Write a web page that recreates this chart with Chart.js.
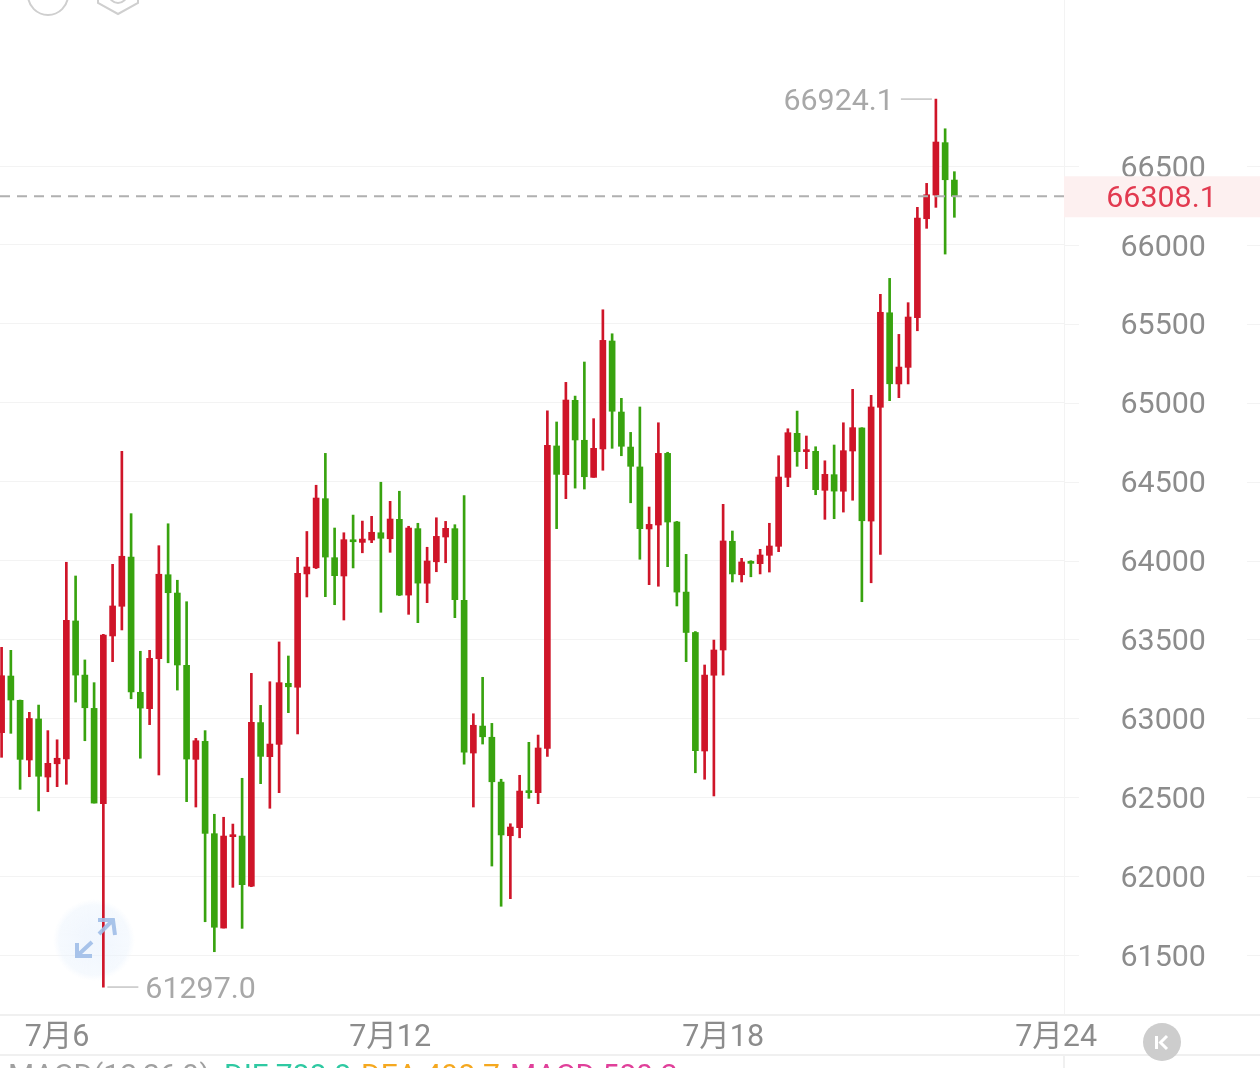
<!DOCTYPE html>
<html>
<head>
<meta charset="utf-8">
<style>
  html, body { margin: 0; padding: 0; background: #fff; overflow: hidden; }
  canvas { display: block; }
</style>
<script src="https://cdn.jsdelivr.net/npm/chart.js@4/dist/chart.umd.min.js"></script>
</head>
<body>
<canvas id="kline" width="1260" height="1068"></canvas>
<script>
// BTC 4h candles, red = up, green = down
const opens = [62909,63268,63114,62736,62996,62628,62712,62742,63617,63274,63063,62459,63522,63710,64022,63165,63061,63378,63910,63794,63336,62740,62854,62269,61671,62250,62254,61937,62973,62757,62835,63222,63197,63915,63954,64392,64018,63902,64130,64115,64130,64176,64138,64261,63781,64202,63856,63992,64149,64202,63748,62780,62951,62880,62596,62256,62307,62539,62529,62810,64726,64544,65015,64762,64527,64707,65391,64941,64719,64593,64200,64225,64679,64244,63800,63544,62793,63273,63433,64122,63910,63991,63980,64033,64090,64527,64806,64690,64692,64445,64544,64439,64694,64840,64250,64971,65570,65119,65224,65539,66166,66316,66648,66411];
const closes = [63270,63116,62740,62999,62633,62715,62747,63621,63274,63067,62463,63528,63712,64027,63167,63065,63380,63913,63796,63338,62742,62858,62271,61676,62254,62262,61946,62975,62759,62837,63226,63200,63919,63959,64396,64022,63904,64132,64119,64136,64179,64141,64263,63781,64206,63857,63997,64153,64204,63752,62785,62956,62883,62598,62261,62311,62539,62529,62812,64730,64546,65017,64764,64531,64711,65395,64946,64724,64597,64202,64229,64679,64244,63800,63544,62795,63274,63433,64124,63915,63991,63982,64035,64092,64529,64810,64690,64698,64449,64546,64440,64696,64842,64252,64973,65573,65120,65226,65543,66170,66318,66652,66413,66308.1];
const highs = [63450,63431,63116,63038,63084,62922,62864,63989,63902,63370,63226,63532,63976,64692,64297,63425,63431,64094,64233,63875,63739,62873,62922,62392,62373,62330,62620,63285,63082,63232,63484,63395,64020,64184,64477,64679,64206,64176,64288,64250,64280,64496,64375,64439,64217,64236,64084,64271,64248,64227,64411,63029,63260,62968,62614,62332,62639,62848,62894,64949,64878,65129,65042,65258,64899,65589,65437,65028,64812,64973,64339,64873,64686,64248,64039,63550,63338,63496,64356,64187,64014,63999,64071,64236,64664,64835,64947,64789,64721,64632,64732,64873,65085,64842,65047,65687,65788,65433,65634,66238,66390,66924.1,66736,66464];
const lows = [62753,62905,62550,62630,62413,62535,62567,62582,63103,62858,62463,61297,63359,63560,63124,62747,62960,62641,63352,63179,62472,62438,61711,61521,61671,61929,61669,61933,62586,62430,62529,63036,62901,63769,63949,63771,63720,63623,63953,64049,64113,63672,64052,63778,63659,63606,63733,63929,63986,63638,62709,62438,62837,62064,61809,61857,62243,62493,62459,62759,64202,64392,64459,64453,64527,64572,64711,64664,64366,64008,63847,63837,63961,63712,63359,62655,62614,62508,63274,63864,63864,63897,63915,63927,64056,64468,64597,64582,64417,64261,64265,64307,64382,63739,63859,64039,65013,65032,65119,65456,66105,66238,65942,66175];

const priceTicks = [61500,62000,62500,63000,63500,64000,64500,65000,65500,66000,66500];
const dateTickIndex = [6,42,78,114];
const dateTickLabels = ['7月6','7月12','7月18','7月24'];

const RED = '#cf1529';
const GREEN = '#38a30f';
const GRID = '#f3f3f3';
const FONT = 'Roboto, "Noto Sans CJK SC", sans-serif';

const candleColor = ctx => {
  const i = ctx.dataIndex;
  return closes[i] >= opens[i] ? RED : GREEN;
};

const wicks = opens.map((o, i) => ({ x: i, y: [lows[i], highs[i]] }));
// very flat candles still get a visible body
const bodies = opens.map((o, i) => ({ x: i, y: [o, closes[i]] }));

function drawExtreme(ctx, x, y, text, side) {
  ctx.strokeStyle = '#c4c4c4';
  ctx.lineWidth = 1.5;
  ctx.beginPath();
  ctx.moveTo(x + side * 4, y);
  ctx.lineTo(x + side * 35, y);
  ctx.stroke();
  ctx.fillStyle = '#a8a8a8';
  ctx.font = '30.4px ' + FONT;
  ctx.textBaseline = 'middle';
  ctx.textAlign = side > 0 ? 'left' : 'right';
  ctx.fillText(text, x + side * 42, y + 3);
}

// everything around the candles: separators, last price, high/low tags, buttons
const overlay = {
  id: 'overlay',
  beforeDatasetsDraw(chart) {
    const ctx = chart.ctx;
    ctx.save();
    // soft disc behind the expand button
    const glow = ctx.createRadialGradient(94, 940, 10, 94, 940, 41);
    glow.addColorStop(0, 'rgba(232,241,253,0.6)');
    glow.addColorStop(0.8, 'rgba(236,244,253,0.5)');
    glow.addColorStop(1, 'rgba(240,246,254,0)');
    ctx.fillStyle = glow;
    ctx.beginPath();
    ctx.arc(94, 940, 41, 0, Math.PI * 2);
    ctx.fill();
    ctx.restore();
  },
  afterDatasetsDraw(chart) {
    const ctx = chart.ctx;
    const { x, y } = chart.scales;
    const area = chart.chartArea;
    const last = closes[closes.length - 1];
    ctx.save();

    // last price line
    ctx.strokeStyle = '#b0b0b0';
    ctx.lineWidth = 2;
    ctx.setLineDash([10, 7]);
    ctx.beginPath();
    ctx.moveTo(0, y.getPixelForValue(last));
    ctx.lineTo(area.right, y.getPixelForValue(last));
    ctx.stroke();
    ctx.setLineDash([]);

    // expand arrows
    ctx.strokeStyle = 'rgba(160,190,232,0.9)';
    ctx.lineWidth = 4;
    ctx.beginPath();
    ctx.moveTo(99, 934); ctx.lineTo(112, 921);
    ctx.moveTo(98, 920); ctx.lineTo(113, 920); ctx.lineTo(115, 935);
    ctx.moveTo(92, 942); ctx.lineTo(78, 955);
    ctx.moveTo(77, 943); ctx.lineTo(77, 956); ctx.lineTo(92, 956);
    ctx.stroke();

    // highest and lowest price of the view
    const top = Math.max(...highs);
    const bottom = Math.min(...lows);
    drawExtreme(ctx, x.getPixelForValue(highs.indexOf(top)), y.getPixelForValue(top), top.toFixed(1), -1);
    drawExtreme(ctx, x.getPixelForValue(lows.indexOf(bottom)), y.getPixelForValue(bottom), bottom.toFixed(1), 1);
    ctx.restore();
  },
  afterDraw(chart) {
    const ctx = chart.ctx;
    const { y } = chart.scales;
    const area = chart.chartArea;
    const w = chart.width;
    const last = closes[closes.length - 1];
    const lastY = y.getPixelForValue(last);
    ctx.save();

    // grid stubs either side of the price labels
    ctx.strokeStyle = GRID;
    ctx.lineWidth = 1;
    priceTicks.forEach(t => {
      const py = Math.round(y.getPixelForValue(t)) + 0.5;
      ctx.beginPath();
      ctx.moveTo(area.right, py); ctx.lineTo(1079, py);
      ctx.moveTo(1247, py); ctx.lineTo(w, py);
      ctx.stroke();
    });

    // separators around the date row
    ctx.strokeStyle = '#f0f0f0';
    ctx.lineWidth = 2;
    ctx.beginPath();
    ctx.moveTo(0, 1015); ctx.lineTo(w, 1015);
    ctx.moveTo(0, 1055); ctx.lineTo(w, 1055);
    ctx.moveTo(area.right, 1055); ctx.lineTo(area.right, 1068);
    ctx.stroke();

    // last price tag
    ctx.fillStyle = '#fdf0f0';
    ctx.fillRect(area.right, lastY - 20, w - area.right, 41);
    ctx.fillStyle = '#e23a50';
    ctx.font = '30.4px ' + FONT;
    ctx.textAlign = 'center';
    ctx.textBaseline = 'middle';
    ctx.fillText(last.toFixed(1), 1161.5, lastY + 3);

    // collapse button
    ctx.fillStyle = '#cdcdcd';
    ctx.beginPath();
    ctx.arc(1162, 1042, 19, 0, Math.PI * 2);
    ctx.fill();
    ctx.strokeStyle = '#fff';
    ctx.lineWidth = 3;
    ctx.beginPath();
    ctx.moveTo(1156.5, 1036); ctx.lineTo(1156.5, 1049);
    ctx.moveTo(1167, 1036); ctx.lineTo(1160.5, 1042.5); ctx.lineTo(1167, 1049);
    ctx.stroke();

    // toolbar icons cut by the top edge
    ctx.strokeStyle = '#cfcfcf';
    ctx.lineWidth = 2;
    ctx.beginPath();
    ctx.arc(48, -5, 20, 0, Math.PI * 2);
    ctx.stroke();
    ctx.beginPath();
    ctx.moveTo(98, -20); ctx.lineTo(98, 3); ctx.lineTo(118, 14); ctx.lineTo(138, 3); ctx.lineTo(138, -20);
    ctx.stroke();
    ctx.beginPath();
    ctx.arc(118, -6, 9, 0, Math.PI * 2);
    ctx.stroke();

    // MACD readout, only its top shows above the edge
    ctx.font = '30px ' + FONT;
    ctx.textAlign = 'left';
    ctx.textBaseline = 'alphabetic';
    const readout = [
      ['MACD(12,26,9)', 8, '#a0a0a0'],
      ['DIF:788.8', 224, '#2fc9a2'],
      ['DEA:498.7', 361, '#f5a81f'],
      ['MACD:580.2', 510, '#e0409a']
    ];
    readout.forEach(r => {
      ctx.fillStyle = r[2];
      ctx.fillText(r[0], r[1], 1085);
    });
    ctx.restore();
  }
};

new Chart(document.getElementById('kline'), {
  type: 'bar',
  plugins: [overlay],
  data: {
    datasets: [
      { label: 'body', data: bodies, grouped: false, barThickness: 6, minBarLength: 2, backgroundColor: candleColor, order: 1 },
      { label: 'wick', data: wicks, grouped: false, barThickness: 2, backgroundColor: candleColor, order: 2 }
    ]
  },
  options: {
    responsive: false,
    animation: false,
    events: [],
    layout: { autoPadding: false, padding: 0 },
    plugins: { legend: { display: false }, tooltip: { enabled: false } },
    scales: {
      x: {
        type: 'linear',
        offset: false,
        min: -0.173,
        max: 114.85,
        grid: { display: false },
        border: { display: false },
        afterFit(scale) {
          scale.height = 53;
          scale.paddingLeft = 0;
          scale.paddingRight = 0;
        },
        afterBuildTicks(scale) { scale.ticks = dateTickIndex.map(v => ({ value: v })); },
        ticks: {
          autoSkip: false,
          maxRotation: 0,
          padding: -3,
          color: '#8c8c8c',
          font: { family: FONT, size: 30.5 },
          callback: v => dateTickLabels[dateTickIndex.indexOf(v)]
        }
      },
      y: {
        position: 'right',
        min: 61120,
        max: 67552,
        grid: { color: GRID, drawTicks: false },
        border: { display: true, color: GRID },
        afterFit(scale) {
          scale.width = 196;
          scale.paddingTop = 0;
          scale.paddingBottom = 0;
        },
        afterBuildTicks(scale) { scale.ticks = priceTicks.map(v => ({ value: v })); },
        ticks: {
          padding: 56.5,
          labelOffset: 3,
          color: '#8c8c8c',
          font: { family: FONT, size: 30.4 },
          callback: v => String(v)
        }
      }
    }
  }
});
</script>
</body>
</html>
